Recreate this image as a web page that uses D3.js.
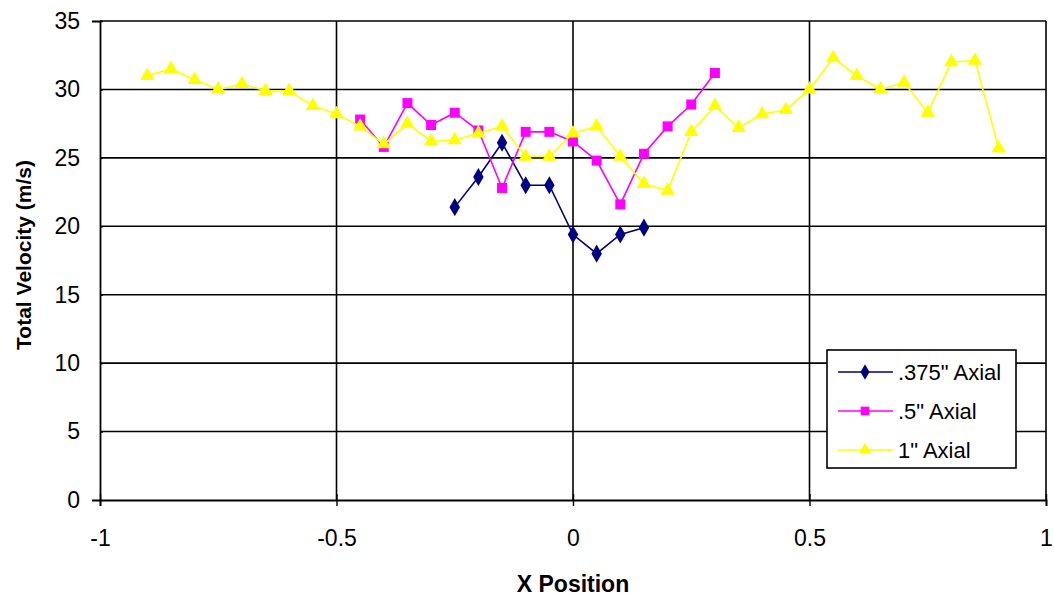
<!DOCTYPE html>
<html>
<head>
<meta charset="utf-8">
<script src="https://cdn.jsdelivr.net/npm/d3@7"></script>
<style>
  html, body { margin: 0; padding: 0; background: #fff; }
  svg { display: block; }
  text { font-family: "Liberation Sans", Arial, sans-serif; fill: #000; }
</style>
</head>
<body>
<svg id="chart" width="1054" height="597"></svg>
<script>
// Probe positions (in) and total velocity readings (m/s) for each axial station
const xAxial375 = [-0.25, -0.2, -0.15, -0.1, -0.05, 0, 0.05, 0.1, 0.15];
const vAxial375 = [21.4, 23.6, 26.1, 23.0, 23.0, 19.4, 18.0, 19.4, 19.9];

const xAxial5 = [-0.45, -0.4, -0.35, -0.3, -0.25, -0.2, -0.15, -0.1, -0.05, 0, 0.05, 0.1, 0.15, 0.2, 0.25, 0.3];
const vAxial5 = [27.8, 25.8, 29.0, 27.4, 28.3, 27.0, 22.8, 26.9, 26.9, 26.2, 24.8, 21.6, 25.3, 27.3, 28.9, 31.2];

const xAxial1 = [-0.9, -0.85, -0.8, -0.75, -0.7, -0.65, -0.6, -0.55, -0.5, -0.45, -0.4, -0.35, -0.3, -0.25, -0.2, -0.15, -0.1, -0.05, 0,
                 0.05, 0.1, 0.15, 0.2, 0.25, 0.3, 0.35, 0.4, 0.45, 0.5, 0.55, 0.6, 0.65, 0.7, 0.75, 0.8, 0.85, 0.9];
const vAxial1 = [31.0, 31.5, 30.7, 30.0, 30.4, 29.9, 29.9, 28.8, 28.2, 27.3, 26.0, 27.5, 26.2, 26.3, 26.8, 27.3, 25.1, 25.1, 26.8,
                 27.3, 25.1, 23.1, 22.6, 26.9, 28.8, 27.2, 28.2, 28.5, 30.0, 32.3, 31.0, 30.0, 30.5, 28.3, 32.0, 32.1, 25.7];

const seriesNames = ['.375" Axial', '.5" Axial', '1" Axial'];
const xTicks = [-1, -0.5, 0, 0.5, 1];
const yTicks = [0, 5, 10, 15, 20, 25, 30, 35];

const series = [
  { name: seriesNames[0], xs: xAxial375, vs: vAxial375, color: "#000080", symbol: d3.symbolDiamond, size: 95 },
  { name: seriesNames[1], xs: xAxial5, vs: vAxial5, color: "#FF00FF", symbol: d3.symbolSquare, size: 100 },
  { name: seriesNames[2], xs: xAxial1, vs: vAxial1, color: "#FFFF00", symbol: d3.symbolTriangle, size: 90 }
];

const svg = d3.select("#chart");
const plot = { left: 100, right: 1046, top: 21, bottom: 500 };

const x = d3.scaleLinear().domain([-1, 1]).range([plot.left, plot.right]);
const y = d3.scaleLinear().domain([0, 35]).range([plot.bottom, plot.top]);

// Gridlines
const grid = svg.append("g");
grid.selectAll("line.h").data(yTicks.filter(t => t > 0)).join("line")
  .attr("x1", plot.left).attr("x2", plot.right)
  .attr("y1", d => y(d)).attr("y2", d => y(d))
  .attr("stroke", "#000").attr("stroke-width", 1.6);
grid.selectAll("line.v").data(xTicks.filter(t => t > -1)).join("line")
  .attr("x1", d => x(d)).attr("x2", d => x(d))
  .attr("y1", plot.top).attr("y2", plot.bottom)
  .attr("stroke", "#000").attr("stroke-width", 1.6);

// Axes
const yAxis = svg.append("g").attr("transform", `translate(${plot.left},0)`)
  .call(d3.axisLeft(y).tickValues(yTicks).tickSize(8).tickPadding(12));
const xAxis = svg.append("g").attr("transform", `translate(0,${plot.bottom})`)
  .call(d3.axisBottom(x).tickValues(xTicks).tickSize(6).tickPadding(24).tickFormat(d => String(d)));
[yAxis, xAxis].forEach(a => {
  a.select(".domain").attr("stroke", "#000").attr("stroke-width", 1.8);
  a.selectAll(".tick line").attr("stroke", "#000").attr("stroke-width", 1.4);
  a.selectAll(".tick text").attr("font-size", 23);
});
// x ticks cross the axis line
xAxis.selectAll(".tick line").attr("y1", -6);
yAxis.selectAll(".tick line").attr("x2", 3);

// Series lines and markers
const line = d3.line().x(d => x(d[0])).y(d => y(d[1]));
series.forEach(s => {
  const pts = s.xs.map((xv, i) => [xv, s.vs[i]]);
  const g = svg.append("g");
  g.append("path").datum(pts).attr("d", line)
    .attr("fill", "none").attr("stroke", s.color).attr("stroke-width", 1.6);
  g.selectAll("path.m").data(pts).join("path")
    .attr("transform", d => `translate(${x(d[0])},${y(d[1])})`)
    .attr("d", d3.symbol(s.symbol, s.size))
    .attr("fill", s.color).attr("stroke", "none");
});

// Axis titles
svg.append("text")
  .attr("x", (plot.left + plot.right) / 2).attr("y", 592)
  .attr("text-anchor", "middle").attr("font-size", 23).attr("font-weight", "bold")
  .text("X Position");
svg.append("text")
  .attr("transform", `translate(31,255) rotate(-90)`)
  .attr("text-anchor", "middle").attr("font-size", 21).attr("font-weight", "bold")
  .text("Total Velocity (m/s)");

// Legend
const legend = svg.append("g");
legend.append("rect")
  .attr("x", 827).attr("y", 350).attr("width", 189).attr("height", 118)
  .attr("fill", "#fff").attr("stroke", "#000").attr("stroke-width", 1.6);
series.forEach((s, i) => {
  const ly = 372 + i * 39;
  legend.append("line").attr("x1", 838).attr("x2", 893).attr("y1", ly).attr("y2", ly)
    .attr("stroke", s.color).attr("stroke-width", 1.6);
  legend.append("path").attr("transform", `translate(865,${ly})`)
    .attr("d", d3.symbol(s.symbol, s.size * 0.75)).attr("fill", s.color);
  legend.append("text").attr("x", 898).attr("y", ly + 8).attr("font-size", 22).text(s.name);
});
</script>
</body>
</html>
